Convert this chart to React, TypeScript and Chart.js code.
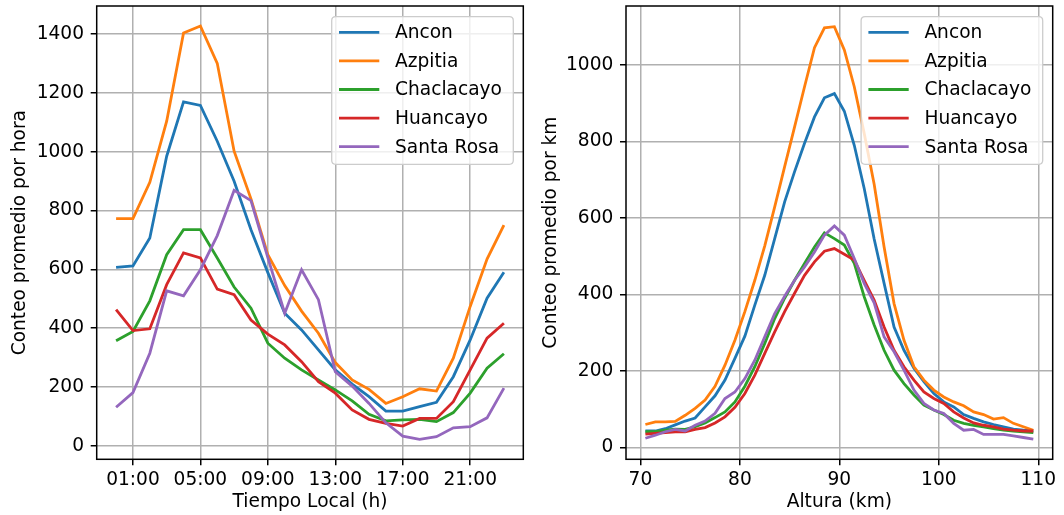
import React, { useEffect, useRef } from 'react';
import { Chart, registerables } from 'chart.js';

Chart.register(...registerables);

// ---------- data ----------
const seriesNames = ['Ancon', 'Azpitia', 'Chaclacayo', 'Huancayo', 'Santa Rosa'];
const seriesColors = ['#1f77b4', '#ff7f0e', '#2ca02c', '#d62728', '#9467bd'];

// Left chart: counts per local hour
const hours = [0, 1, 2, 3, 4, 5, 6, 7, 8, 9, 10, 11, 12, 13, 14, 15, 16, 17, 18, 19, 20, 21, 22, 23];
const hourAncon = [607, 612, 707, 985, 1170, 1158, 1036, 900, 735, 589, 451, 394, 326, 258, 210, 167, 118, 118, 133, 148, 235, 360, 502, 590];
const hourAzpitia = [773, 773, 896, 1104, 1404, 1428, 1301, 1002, 840, 650, 545, 458, 383, 283, 224, 192, 144, 167, 194, 186, 298, 474, 635, 751];
const hourChaclacayo = [357, 389, 493, 650, 735, 735, 639, 540, 468, 349, 298, 258, 224, 190, 153, 107, 85, 88, 90, 82, 113, 179, 264, 313];
const hourHuancayo = [463, 392, 398, 548, 656, 639, 533, 514, 428, 380, 343, 286, 218, 179, 122, 90, 76, 67, 93, 93, 150, 258, 366, 417];
const hourSantaRosa = [131, 181, 315, 527, 510, 599, 715, 869, 834, 640, 451, 599, 497, 252, 203, 144, 78, 33, 22, 31, 61, 65, 95, 196];
const hourTicks = [1, 5, 9, 13, 17, 21];
const hourCountTicks = [0, 200, 400, 600, 800, 1000, 1200, 1400];

// Right chart: counts per km of altitude
const altitudes = [70.5, 71.5, 72.5, 73.5, 74.5, 75.5, 76.5, 77.5, 78.5, 79.5, 80.5, 81.5, 82.5, 83.5, 84.5, 85.5, 86.5, 87.5, 88.5, 89.5, 90.5, 91.5, 92.5, 93.5, 94.5, 95.5, 96.5, 97.5, 98.5, 99.5, 100.5, 101.5, 102.5, 103.5, 104.5, 105.5, 106.5, 107.5, 108.5, 109.5];
const altAncon = [43, 43, 49, 59, 69, 77, 106, 135, 176, 233, 291, 372, 450, 546, 642, 721, 795, 864, 914, 925, 879, 790, 677, 545, 429, 315, 254, 207, 172, 141, 119, 106, 86, 76, 67, 60, 54, 48, 45, 43];
const altAzpitia = [60, 67, 67, 68, 84, 102, 124, 160, 215, 280, 355, 437, 527, 629, 734, 838, 943, 1045, 1097, 1100, 1039, 943, 821, 688, 524, 376, 280, 211, 176, 150, 132, 119, 109, 93, 86, 74, 78, 63, 54, 45];
const altChaclacayo = [41, 41, 45, 48, 47, 54, 64, 78, 93, 119, 160, 211, 272, 337, 390, 437, 481, 524, 561, 546, 529, 481, 394, 320, 254, 202, 167, 137, 111, 98, 86, 71, 63, 58, 54, 49, 45, 43, 41, 39];
const altHuancayo = [35, 37, 39, 41, 41, 47, 52, 64, 80, 105, 141, 189, 246, 302, 355, 403, 450, 485, 513, 520, 505, 490, 437, 385, 315, 254, 211, 176, 145, 128, 115, 93, 77, 64, 58, 54, 48, 45, 43, 43];
const altSantaRosa = [24, 32, 41, 47, 43, 58, 69, 89, 128, 145, 180, 228, 289, 350, 395, 437, 472, 511, 555, 579, 555, 494, 429, 378, 289, 250, 202, 150, 115, 98, 89, 63, 45, 47, 34, 34, 34, 30, 26, 22];
const altTicks = [70, 80, 90, 100, 110];
const altCountTicks = [0, 200, 400, 600, 800, 1000];

// ---------- styling ----------
const FAMILY = '"DejaVu Sans", sans-serif';
const FS = 18.6;
const W = 532;
const H = 515;

const frameLegendPlugin = {
  id: 'frameLegend',
  afterDatasetsDraw(chart: any) {
    const { ctx, chartArea } = chart;
    const { left, right, top, bottom } = chartArea;
    ctx.save();
    // spines
    ctx.strokeStyle = '#000';
    ctx.lineWidth = 1.5;
    ctx.strokeRect(left, top, right - left, bottom - top);
    // legend
    const bw = 181.6;
    const bh = 147.6;
    const bx = right - 10 - bw;
    const by = top + 10.7;
    const r = 4;
    ctx.beginPath();
    ctx.moveTo(bx + r, by);
    ctx.lineTo(bx + bw - r, by);
    ctx.quadraticCurveTo(bx + bw, by, bx + bw, by + r);
    ctx.lineTo(bx + bw, by + bh - r);
    ctx.quadraticCurveTo(bx + bw, by + bh, bx + bw - r, by + bh);
    ctx.lineTo(bx + r, by + bh);
    ctx.quadraticCurveTo(bx, by + bh, bx, by + bh - r);
    ctx.lineTo(bx, by + r);
    ctx.quadraticCurveTo(bx, by, bx + r, by);
    ctx.closePath();
    ctx.fillStyle = 'rgba(255,255,255,0.8)';
    ctx.fill();
    ctx.strokeStyle = '#cccccc';
    ctx.lineWidth = 1.3;
    ctx.stroke();
    ctx.font = `${FS}px ${FAMILY}`;
    ctx.textBaseline = 'middle';
    ctx.textAlign = 'left';
    chart.data.datasets.forEach((ds: any, i: number) => {
      const y = by + 15.6 + i * 28.6;
      ctx.strokeStyle = ds.borderColor;
      ctx.lineWidth = 2.8;
      ctx.beginPath();
      ctx.moveTo(bx + 7.3, y);
      ctx.lineTo(bx + 47.6, y);
      ctx.stroke();
      ctx.fillStyle = '#000';
      ctx.fillText(ds.label, bx + 63.3, y + 1);
    });
    ctx.restore();
  },
};

function buildDatasets(xs: number[], series: number[][]) {
  return series.map((vals, i) => ({
    label: seriesNames[i],
    data: vals.map((v, j) => ({ x: xs[j], y: v })),
    borderColor: seriesColors[i],
    backgroundColor: seriesColors[i],
    borderWidth: 2.8,
    pointRadius: 0,
    tension: 0,
    fill: false,
    order: 5 - i,
  }));
}

function zeroPad(s: any) {
  s.paddingTop = 0;
  s.paddingBottom = 0;
  s.paddingLeft = 0;
  s.paddingRight = 0;
}

function buildOptions(o: {
  xMin: number; xMax: number; yMin: number; yMax: number;
  xTicks: number[]; yTicks: number[]; xFmt: (v: number) => string;
  xTitle: string; yTitle: string; yWidth: number; padRight: number; yTitlePad: number;
}) {
  const font = { family: FAMILY, size: FS };
  const grid = { color: '#b0b0b0', lineWidth: 1.5, tickColor: '#000', tickLength: 6, tickWidth: 1.5, drawTicks: true };
  return {
    responsive: false,
    animation: false,
    layout: { padding: { left: 0, right: o.padRight, top: 6, bottom: 0 } },
    plugins: { legend: { display: false }, tooltip: { enabled: false } },
    scales: {
      x: {
        type: 'linear',
        min: o.xMin,
        max: o.xMax,
        afterBuildTicks: (s: any) => { s.ticks = o.xTicks.map((v) => ({ value: v })); },
        afterFit: (s: any) => { s.height = 55.7; zeroPad(s); },
        ticks: { autoSkip: false, maxRotation: 0, padding: 4, color: '#000', font, callback: (v: any) => o.xFmt(Number(v)) },
        grid,
        border: { display: false },
        title: { display: true, text: o.xTitle, color: '#000', font, padding: { top: 0, bottom: 1.8 } },
      },
      y: {
        type: 'linear',
        min: o.yMin,
        max: o.yMax,
        afterBuildTicks: (s: any) => { s.ticks = o.yTicks.map((v) => ({ value: v })); },
        afterFit: (s: any) => { s.width = o.yWidth; zeroPad(s); },
        ticks: { autoSkip: false, padding: 6.7, color: '#000', font, callback: (v: any) => String(v) },
        grid,
        border: { display: false },
        title: { display: true, text: o.yTitle, color: '#000', font, padding: { top: o.yTitlePad, bottom: 0 } },
      },
    },
  };
}

export default function App() {
  const leftRef = useRef<HTMLCanvasElement>(null);
  const rightRef = useRef<HTMLCanvasElement>(null);

  useEffect(() => {
    const left = new Chart(leftRef.current as HTMLCanvasElement, {
      type: 'line',
      data: {
        datasets: buildDatasets(hours, [hourAncon, hourAzpitia, hourChaclacayo, hourHuancayo, hourSantaRosa]),
      } as any,
      options: buildOptions({
        xMin: -1.15, xMax: 24.15, yMin: -46, yMax: 1496,
        xTicks: hourTicks, yTicks: hourCountTicks,
        xFmt: (v) => `${String(v).padStart(2, '0')}:00`,
        xTitle: 'Tiempo Local (h)', yTitle: 'Conteo promedio por hora',
        yWidth: 96.7, padRight: W - 523.3, yTitlePad: 9.4,
      }) as any,
      plugins: [frameLegendPlugin],
    });
    const right = new Chart(rightRef.current as HTMLCanvasElement, {
      type: 'line',
      data: {
        datasets: buildDatasets(altitudes, [altAncon, altAzpitia, altChaclacayo, altHuancayo, altSantaRosa]),
      } as any,
      options: buildOptions({
        xMin: 68.55, xMax: 111.45, yMin: -31, yMax: 1154,
        xTicks: altTicks, yTicks: altCountTicks,
        xFmt: (v) => String(v),
        xTitle: 'Altura (km)', yTitle: 'Conteo promedio por km',
        yWidth: 94, padRight: W - 520.7, yTitlePad: 7.6,
      }) as any,
      plugins: [frameLegendPlugin],
    });
    return () => {
      left.destroy();
      right.destroy();
    };
  }, []);

  return (
    <div style={{ position: 'absolute', left: 0, top: 0, width: 1064, height: 515, background: '#fff' }}>
      <canvas ref={leftRef} width={W} height={H} style={{ position: 'absolute', left: 0, top: 0, width: W, height: H }} />
      <canvas ref={rightRef} width={W} height={H} style={{ position: 'absolute', left: W, top: 0, width: W, height: H }} />
    </div>
  );
}
